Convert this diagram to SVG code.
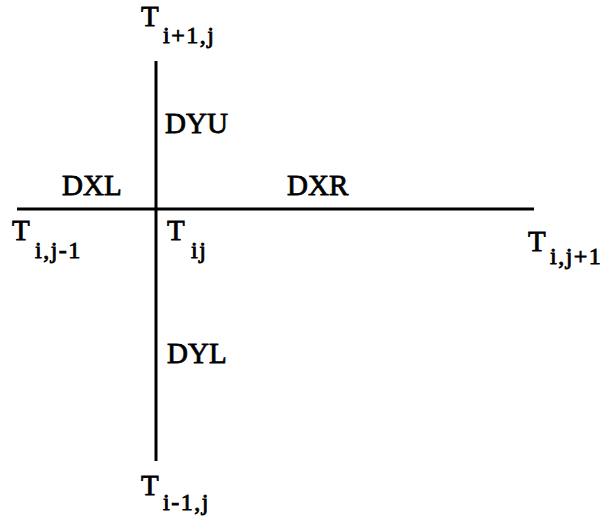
<svg xmlns="http://www.w3.org/2000/svg" width="605" height="517" viewBox="0 0 605 517">
<style>
text{font-family:"Liberation Serif","Times New Roman",serif;fill:#000;stroke:#000;stroke-width:0.8px;font-size:29px}
.s{font-size:24px;letter-spacing:1.5px}
line{stroke:#000;stroke-width:3}
</style>
<rect width="605" height="517" fill="#fff"/>
<g id="connectors">
<line x1="156" y1="61" x2="156" y2="461"/>
<line x1="17" y1="209" x2="534" y2="209"/>
</g>
<g id="T_up"><text x="141" y="26">T<tspan class="s" x="163" y="43">i+1,j</tspan></text></g>
<g id="DYU"><text x="165" y="133">DYU</text></g>
<g id="DXL"><text x="62" y="195">DXL</text></g>
<g id="DXR"><text x="287" y="195">DXR</text></g>
<g id="T_left"><text x="12" y="240">T<tspan class="s" x="35" y="258">i,j-1</tspan></text></g>
<g id="T_center"><text x="167" y="240">T<tspan class="s" x="191" y="258">ij</tspan></text></g>
<g id="T_right"><text x="528" y="251">T<tspan class="s" x="550" y="264">i,j+1</tspan></text></g>
<g id="DYL"><text x="167" y="363">DYL</text></g>
<g id="T_down"><text x="141" y="495">T<tspan class="s" x="163" y="510">i-1,j</tspan></text></g>
</svg>
